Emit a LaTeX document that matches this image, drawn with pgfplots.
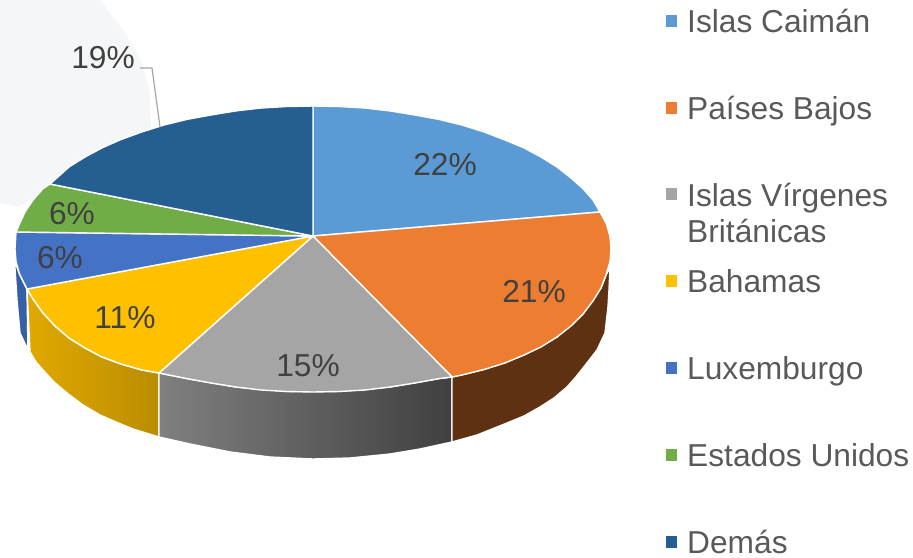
\documentclass[border=0pt]{standalone}
\usepackage{fontspec}
\setmainfont{Liberation Sans}
\usepackage{pgfplots}
\pgfplotsset{compat=1.18}

\definecolor{cCaiman}{HTML}{5B9BD5}
\definecolor{cBajos}{HTML}{ED7D31}
\definecolor{cBajosW}{HTML}{5F3113}
\definecolor{cVirgen}{HTML}{A5A5A5}
\definecolor{cBaham}{HTML}{FFC000}
\definecolor{cLux}{HTML}{4472C4}
\definecolor{cLuxW}{HTML}{3560A8}
\definecolor{cUSA}{HTML}{70AD47}
\definecolor{cDemas}{HTML}{255E91}
\definecolor{cBack}{HTML}{F5F6F8}

\pgfplotsset{
  slice/.style={draw=white, line width=1.4pt, line join=round, fill=#1},
  swatch/.style={only marks, mark=square*, mark size=5.4pt, mark options={draw=#1, fill=#1, line width=0pt}, forget plot},
}
\tikzset{
  pct/.style={text=black!75, font=\fontsize{31.7}{38}\selectfont, anchor=center, inner sep=0pt},
  leg/.style={text=black!65, font=\fontsize{31.7}{38}\selectfont, anchor=base west, inner sep=0pt},
}

\begin{document}
\begin{tikzpicture}
\useasboundingbox (0,0) rectangle (913pt,557pt);
\begin{axis}[
    at={(0,0)}, anchor=south west,
    scale only axis, width=913pt, height=557pt,
    xmin=0, xmax=913, ymin=0, ymax=557,
    y dir=reverse, hide axis,
]
% faint shape behind the top left of the pie
\addplot[draw=none, fill=cBack] coordinates {
  (0,0) (100,0) (123,30) (140,57) (150,93) (151,127) (150,150) (50,190) (18,207) (0,203)
} -- cycle;

% side walls
\addplot[slice=cLuxW] coordinates {
  (15,262) (19.5,274) (27,289) (28,350) (20,333) (17,300) (15,268)
} -- cycle;
\addplot[draw=white, line width=1.4pt, line join=round, left color=cBaham!88!black, right color=cBaham!73!black] coordinates {
  (27,289) (33,299) (43,313) (55,326) (69,338) (85,348) (102,357) (121,364) (142,370) (159,373)
  (159,437) (133,429) (116,422) (100,415) (83,405) (67,393) (54,382) (43,370) (36,362) (30,352)
} -- cycle;
\addplot[draw=white, line width=1.4pt, line join=round, left color=black!50, right color=black!75] coordinates {
  (159,373) (187,378.6) (236,387) (287,391.5) (339,391.5) (390,387) (439,378.6) (452,377)
  (452,442) (420,449) (390,454) (350,458) (313,459) (270,457) (230,452) (190,444) (159,437)
} -- cycle;
\addplot[slice=cBajosW] coordinates {
  (452,377) (484,369.5) (524,355) (557,337) (583,314) (601,288) (606,275) (610,268)
  (609,290) (608,307) (605,333) (597,350) (583,368) (575,378) (567,387) (554,398) (540,407)
  (524,416) (507,423) (492,429) (477,435) (452,442)
} -- cycle;

% top face, clockwise from twelve o'clock
\addplot[slice=cCaiman] coordinates {
  (313,236) (313,106) (339,106.5) (365,108) (390,110.9) (415,115) (439,119.4) (462,125)
  (484,131.9) (505,140) (524,147.9) (541,157) (557,167) (571,178) (583,188.6) (593,200) (600,212)
} -- cycle;
\addplot[slice=cBajos] coordinates {
  (313,236) (600,212) (606.5,224) (610,236.5) (611,249) (610,261.5) (606,275) (601,288)
  (593,301) (583,314) (571,326) (557,337) (541,347) (524,355) (505,363) (484,369.5)
  (462,375) (452,377)
} -- cycle;
\addplot[slice=cVirgen] coordinates {
  (313,236) (452,377) (439,378.6) (415,383) (390,387) (365,390) (339,391.5) (313,392)
  (287,391.5) (261,390) (236,387) (211,383) (187,378.6) (159,373)
} -- cycle;
\addplot[slice=cBaham] coordinates {
  (313,236) (159,373) (142,370) (121,364) (102,357) (85,348) (69,338) (55,326)
  (43,313) (33,299) (27,289)
} -- cycle;
\addplot[slice=cLux] coordinates {
  (313,236) (27,289) (19.5,274) (16,261.5) (15,249) (16,232)
} -- cycle;
\addplot[slice=cUSA] coordinates {
  (313,236) (16,232) (19.5,224) (25,212) (33,200) (43,188.6) (50,184)
} -- cycle;
\addplot[slice=cDemas] coordinates {
  (313,236) (50,184) (69,167) (85,157) (102,147.9) (121,139.5) (142,131.9) (164,125)
  (187,119.4) (211,115) (236,110.9) (261,108) (287,106.5) (313,106)
} -- cycle;

% leader of the 19% label
\addplot[draw=black!35, line width=1.2pt, line join=round] coordinates {
  (140,68) (152,68) (160,127)
};

\node[pct] at (axis cs:103,58) {19\%};
\node[pct] at (axis cs:445,165) {22\%};
\node[pct] at (axis cs:534,292) {21\%};
\node[pct] at (axis cs:308,366) {15\%};
\node[pct] at (axis cs:125,318) {11\%};
\node[pct] at (axis cs:60,258) {6\%};
\node[pct] at (axis cs:72,214) {6\%};

% legend
\addplot[swatch=cCaiman] coordinates {(671.5,21)};
\addplot[swatch=cBajos] coordinates {(671.5,108)};
\addplot[swatch=cVirgen] coordinates {(671.5,194)};
\addplot[swatch=cBaham] coordinates {(671.5,281)};
\addplot[swatch=cLux] coordinates {(671.5,368)};
\addplot[swatch=cUSA] coordinates {(671.5,455)};
\addplot[swatch=cDemas] coordinates {(671.5,542)};
\node[leg] at (axis cs:687,32) {Islas Caimán};
\node[leg] at (axis cs:687,119) {Países Bajos};
\node[leg] at (axis cs:687,206) {Islas Vírgenes};
\node[leg] at (axis cs:687,242) {Británicas};
\node[leg] at (axis cs:687,292) {Bahamas};
\node[leg] at (axis cs:687,379) {Luxemburgo};
\node[leg] at (axis cs:687,466) {Estados Unidos};
\node[leg] at (axis cs:687,553) {Demás};
\end{axis}
\end{tikzpicture}
\end{document}
